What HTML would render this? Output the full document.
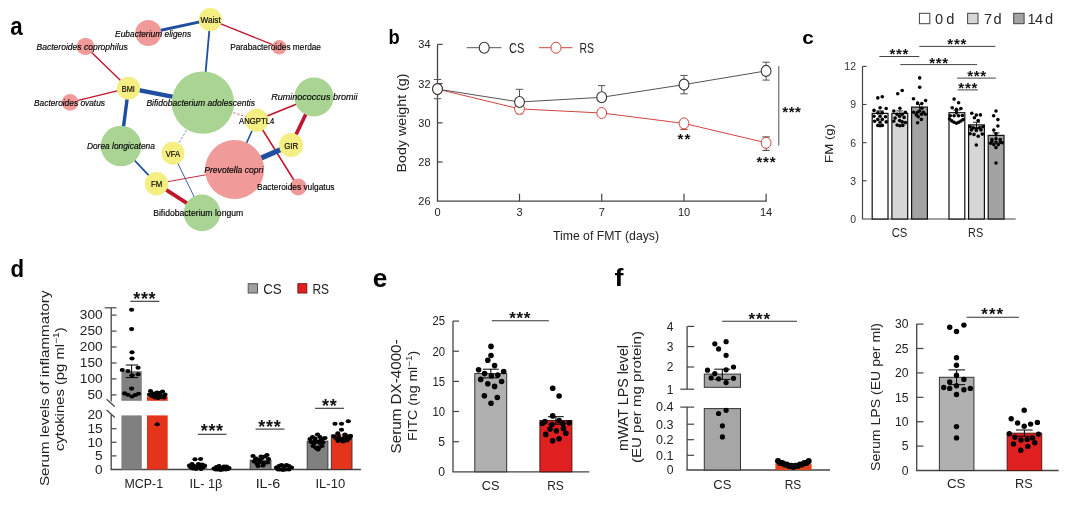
<!DOCTYPE html>
<html lang="en"><head><meta charset="utf-8"><title>Figure</title>
<style>
html,body{margin:0;padding:0;background:#fff;}
body{width:1080px;height:507px;overflow:hidden;}
svg{display:block;font-family:'Liberation Sans', Arial, Helvetica, sans-serif;}
</style></head><body>
<svg width="1080" height="507" viewBox="0 0 1080 507">
<rect width="1080" height="507" fill="#ffffff"/>
<text x="10.3" y="35.1" font-size="25" text-anchor="start" fill="#000" textLength="12.4" lengthAdjust="spacingAndGlyphs" font-weight="bold" >a</text>
<text x="388.6" y="43.7" font-size="19.5" text-anchor="start" fill="#000" textLength="11.2" lengthAdjust="spacingAndGlyphs" font-weight="bold" >b</text>
<text x="802.3" y="43.8" font-size="18.5" text-anchor="start" fill="#000" textLength="11.6" lengthAdjust="spacingAndGlyphs" font-weight="bold" >c</text>
<text x="10.6" y="277.1" font-size="24.5" text-anchor="start" fill="#000" textLength="13.6" lengthAdjust="spacingAndGlyphs" font-weight="bold" >d</text>
<text x="372.8" y="286.6" font-size="25" text-anchor="start" fill="#000" textLength="14.6" lengthAdjust="spacingAndGlyphs" font-weight="bold" >e</text>
<text x="614.4" y="286.0" font-size="24.5" text-anchor="start" fill="#000" textLength="9.0" lengthAdjust="spacingAndGlyphs" font-weight="bold" >f</text>
<g stroke-linecap="butt">
<line x1="210.3" y1="19.6" x2="148.3" y2="33.0" stroke="#1f4f9e" stroke-width="3" />
<line x1="210.3" y1="19.6" x2="279.3" y2="47.3" stroke="#c0152b" stroke-width="1.3" />
<line x1="210.3" y1="19.6" x2="202.9" y2="102.6" stroke="#1f4f9e" stroke-width="1.8" />
<line x1="85.5" y1="46.4" x2="128.5" y2="88.2" stroke="#c0152b" stroke-width="1.4" />
<line x1="70.1" y1="102.4" x2="128.5" y2="88.2" stroke="#c0152b" stroke-width="1.3" />
<line x1="128.5" y1="88.2" x2="202.9" y2="102.6" stroke="#1f4f9e" stroke-width="4.4" />
<line x1="128.5" y1="88.2" x2="121.0" y2="146.0" stroke="#1f4f9e" stroke-width="3.4" />
<line x1="202.9" y1="102.6" x2="256.7" y2="120.3" stroke="#c0152b" stroke-width="0.6"  stroke-dasharray="2.5 1.5"/>
<line x1="202.9" y1="102.6" x2="172.9" y2="153.2" stroke="#1f4f9e" stroke-width="0.6"  stroke-dasharray="2.5 1.5"/>
<line x1="314.0" y1="97.0" x2="256.7" y2="120.3" stroke="#c0152b" stroke-width="1.7" />
<line x1="314.0" y1="97.0" x2="291.0" y2="145.1" stroke="#c0152b" stroke-width="3.6" />
<line x1="256.7" y1="120.3" x2="298.2" y2="187.0" stroke="#c0152b" stroke-width="1.6" />
<line x1="256.7" y1="120.3" x2="234.6" y2="169.6" stroke="#1f4f9e" stroke-width="1.5" />
<line x1="291.0" y1="145.1" x2="234.6" y2="169.6" stroke="#1f4f9e" stroke-width="5.2" />
<line x1="121.0" y1="146.0" x2="156.5" y2="183.7" stroke="#1f4f9e" stroke-width="1.8" />
<line x1="156.5" y1="183.7" x2="234.6" y2="169.6" stroke="#c0152b" stroke-width="0.9" />
<line x1="156.5" y1="183.7" x2="202.0" y2="212.9" stroke="#c0152b" stroke-width="3.8" />
<line x1="172.9" y1="153.2" x2="202.0" y2="212.9" stroke="#1f4f9e" stroke-width="0.9" />
</g>
<circle cx="210.3" cy="19.6" r="11.5" fill="#f5ee82"/>
<circle cx="148.3" cy="33.0" r="13" fill="#f09a9a"/>
<circle cx="85.5" cy="46.4" r="8.7" fill="#f09a9a"/>
<circle cx="279.3" cy="47.3" r="7.3" fill="#f09a9a"/>
<circle cx="128.5" cy="88.2" r="11.5" fill="#f5ee82"/>
<circle cx="70.1" cy="102.4" r="8.3" fill="#f09a9a"/>
<circle cx="202.9" cy="102.6" r="31.2" fill="#a9d494"/>
<circle cx="314.0" cy="97.0" r="19.6" fill="#a9d494"/>
<circle cx="256.7" cy="120.3" r="11.7" fill="#f5ee82"/>
<circle cx="121.0" cy="146.0" r="20.3" fill="#a9d494"/>
<circle cx="172.9" cy="153.2" r="11.5" fill="#f5ee82"/>
<circle cx="291.0" cy="145.1" r="12" fill="#f5ee82"/>
<circle cx="234.6" cy="169.6" r="29.5" fill="#f09a9a"/>
<circle cx="156.5" cy="183.7" r="11.7" fill="#f5ee82"/>
<circle cx="298.2" cy="187.0" r="8.4" fill="#f09a9a"/>
<circle cx="202.0" cy="212.9" r="18.3" fill="#a9d494"/>
<text x="115.1" y="36.5" font-size="8.5" text-anchor="start" fill="#000" textLength="76.0" lengthAdjust="spacingAndGlyphs" font-style="italic" stroke="#000" stroke-width="0.15">Eubacterium eligens</text>
<text x="36.5" y="49.8" font-size="8.5" text-anchor="start" fill="#000" textLength="91.2" lengthAdjust="spacingAndGlyphs" font-style="italic" stroke="#000" stroke-width="0.15">Bacteroides coprophilus</text>
<text x="230.2" y="50.3" font-size="8.5" text-anchor="start" fill="#000" textLength="90.8" lengthAdjust="spacingAndGlyphs" stroke="#000" stroke-width="0.15">Parabacteroides merdae</text>
<text x="34.0" y="105.6" font-size="8.5" text-anchor="start" fill="#000" textLength="71.0" lengthAdjust="spacingAndGlyphs" font-style="italic" stroke="#000" stroke-width="0.15">Bacteroides ovatus</text>
<text x="146.4" y="106.1" font-size="8.5" text-anchor="start" fill="#000" textLength="108.6" lengthAdjust="spacingAndGlyphs" font-style="italic" stroke="#000" stroke-width="0.15">Bifidobacterium adolescentis</text>
<text x="271.2" y="100.2" font-size="8.5" text-anchor="start" fill="#000" textLength="86.3" lengthAdjust="spacingAndGlyphs" font-style="italic" stroke="#000" stroke-width="0.15">Ruminococcus bromii</text>
<text x="86.9" y="149.3" font-size="8.5" text-anchor="start" fill="#000" textLength="68.0" lengthAdjust="spacingAndGlyphs" font-style="italic" stroke="#000" stroke-width="0.15">Dorea longicatena</text>
<text x="204.3" y="172.8" font-size="8.5" text-anchor="start" fill="#000" textLength="59.0" lengthAdjust="spacingAndGlyphs" font-style="italic" stroke="#000" stroke-width="0.15">Prevotella copri</text>
<text x="257.1" y="190.0" font-size="8.5" text-anchor="start" fill="#000" textLength="77.4" lengthAdjust="spacingAndGlyphs" stroke="#000" stroke-width="0.15">Bacteroides vulgatus</text>
<text x="153.2" y="216.1" font-size="8.5" text-anchor="start" fill="#000" textLength="90.0" lengthAdjust="spacingAndGlyphs" stroke="#000" stroke-width="0.15">Bifidobacterium longum</text>
<text x="200.5" y="22.6" font-size="8.2" text-anchor="start" fill="#000" textLength="20.2" lengthAdjust="spacingAndGlyphs" stroke="#000" stroke-width="0.15">Waist</text>
<text x="121.8" y="91.5" font-size="8.2" text-anchor="start" fill="#000" textLength="13.1" lengthAdjust="spacingAndGlyphs" stroke="#000" stroke-width="0.15">BMI</text>
<text x="239.1" y="123.7" font-size="8.2" text-anchor="start" fill="#000" textLength="35.2" lengthAdjust="spacingAndGlyphs" stroke="#000" stroke-width="0.15">ANGPTL4</text>
<text x="165.7" y="156.9" font-size="8.2" text-anchor="start" fill="#000" textLength="14.3" lengthAdjust="spacingAndGlyphs" stroke="#000" stroke-width="0.15">VFA</text>
<text x="284.2" y="148.5" font-size="8.2" text-anchor="start" fill="#000" textLength="14.0" lengthAdjust="spacingAndGlyphs" stroke="#000" stroke-width="0.15">GIR</text>
<text x="151.0" y="187.0" font-size="8.2" text-anchor="start" fill="#000" textLength="11.3" lengthAdjust="spacingAndGlyphs" stroke="#000" stroke-width="0.15">FM</text>
<line x1="437.5" y1="44.4" x2="437.5" y2="201.2" stroke="#444" stroke-width="1.3" />
<line x1="436.9" y1="201.2" x2="766.7" y2="201.2" stroke="#444" stroke-width="1.3" />
<text x="430.5" y="205.2" font-size="11" text-anchor="end" fill="#222" textLength="12.2" lengthAdjust="spacingAndGlyphs" >26</text>
<line x1="437.5" y1="162.0" x2="442.5" y2="162.0" stroke="#444" stroke-width="1.2" />
<text x="430.5" y="166.0" font-size="11" text-anchor="end" fill="#222" textLength="12.2" lengthAdjust="spacingAndGlyphs" >28</text>
<line x1="437.5" y1="122.8" x2="442.5" y2="122.8" stroke="#444" stroke-width="1.2" />
<text x="430.5" y="126.8" font-size="11" text-anchor="end" fill="#222" textLength="12.2" lengthAdjust="spacingAndGlyphs" >30</text>
<line x1="437.5" y1="83.6" x2="442.5" y2="83.6" stroke="#444" stroke-width="1.2" />
<text x="430.5" y="87.6" font-size="11" text-anchor="end" fill="#222" textLength="12.2" lengthAdjust="spacingAndGlyphs" >32</text>
<line x1="437.5" y1="44.4" x2="442.5" y2="44.4" stroke="#444" stroke-width="1.2" />
<text x="430.5" y="48.4" font-size="11" text-anchor="end" fill="#222" textLength="12.2" lengthAdjust="spacingAndGlyphs" >34</text>
<text x="437.5" y="216.0" font-size="11" text-anchor="middle" fill="#222" >0</text>
<line x1="519.5" y1="201.2" x2="519.5" y2="193.7" stroke="#444" stroke-width="1.2" />
<text x="519.5" y="216.0" font-size="11" text-anchor="middle" fill="#222" >3</text>
<line x1="601.7" y1="201.2" x2="601.7" y2="193.7" stroke="#444" stroke-width="1.2" />
<text x="601.7" y="216.0" font-size="11" text-anchor="middle" fill="#222" >7</text>
<line x1="684.0" y1="201.2" x2="684.0" y2="193.7" stroke="#444" stroke-width="1.2" />
<text x="684.0" y="216.0" font-size="11" text-anchor="middle" fill="#222" >10</text>
<line x1="766.1" y1="201.2" x2="766.1" y2="193.7" stroke="#444" stroke-width="1.2" />
<text x="766.1" y="216.0" font-size="11" text-anchor="middle" fill="#222" >14</text>
<text x="606.0" y="239.6" font-size="12.5" text-anchor="middle" fill="#222" textLength="106.0" lengthAdjust="spacingAndGlyphs" >Time of FMT (days)</text>
<text x="406.2" y="123.0" font-size="13" text-anchor="middle" fill="#222" textLength="99.0" lengthAdjust="spacingAndGlyphs" transform="rotate(-90 406.2 123.0)" >Body weight (g)</text>
<polyline fill="none" stroke="#d0453f" stroke-width="1" points="437.5,89.1 519.5,108.9 601.7,113.0 684.0,123.4 766.1,142.8"/>
<polyline fill="none" stroke="#555" stroke-width="1" points="437.5,89.1 519.5,102.0 601.7,97.3 684.0,84.6 766.1,70.9"/>
<line x1="519.5" y1="108.9" x2="519.5" y2="113.8" stroke="#d0453f" stroke-width="1" />
<line x1="515.8" y1="113.8" x2="523.2" y2="113.8" stroke="#d0453f" stroke-width="1" />
<line x1="684.0" y1="123.4" x2="684.0" y2="129.5" stroke="#d0453f" stroke-width="1" />
<line x1="680.3" y1="129.5" x2="687.7" y2="129.5" stroke="#d0453f" stroke-width="1" />
<line x1="766.1" y1="142.8" x2="766.1" y2="136.9" stroke="#444" stroke-width="1" />
<line x1="762.4" y1="136.9" x2="769.8" y2="136.9" stroke="#444" stroke-width="1" />
<line x1="766.1" y1="142.8" x2="766.1" y2="150.4" stroke="#444" stroke-width="1" />
<line x1="762.4" y1="150.4" x2="769.8" y2="150.4" stroke="#444" stroke-width="1" />
<line x1="437.5" y1="89.1" x2="437.5" y2="79.5" stroke="#555" stroke-width="1" />
<line x1="433.8" y1="79.5" x2="441.2" y2="79.5" stroke="#555" stroke-width="1" />
<line x1="437.5" y1="89.1" x2="437.5" y2="98.7" stroke="#555" stroke-width="1" />
<line x1="433.8" y1="98.7" x2="441.2" y2="98.7" stroke="#555" stroke-width="1" />
<line x1="519.5" y1="102.0" x2="519.5" y2="89.3" stroke="#555" stroke-width="1" />
<line x1="515.8" y1="89.3" x2="523.2" y2="89.3" stroke="#555" stroke-width="1" />
<line x1="601.7" y1="97.3" x2="601.7" y2="85.6" stroke="#555" stroke-width="1" />
<line x1="598.0" y1="85.6" x2="605.4" y2="85.6" stroke="#555" stroke-width="1" />
<line x1="684.0" y1="84.6" x2="684.0" y2="75.4" stroke="#555" stroke-width="1" />
<line x1="680.3" y1="75.4" x2="687.7" y2="75.4" stroke="#555" stroke-width="1" />
<line x1="684.0" y1="84.6" x2="684.0" y2="93.8" stroke="#555" stroke-width="1" />
<line x1="680.3" y1="93.8" x2="687.7" y2="93.8" stroke="#555" stroke-width="1" />
<line x1="766.1" y1="70.9" x2="766.1" y2="62.2" stroke="#555" stroke-width="1" />
<line x1="762.4" y1="62.2" x2="769.8" y2="62.2" stroke="#555" stroke-width="1" />
<line x1="766.1" y1="70.9" x2="766.1" y2="80.1" stroke="#555" stroke-width="1" />
<line x1="762.4" y1="80.1" x2="769.8" y2="80.1" stroke="#555" stroke-width="1" />
<ellipse cx="437.5" cy="89.1" rx="4.9" ry="5.5" fill="#fff" stroke="#d0453f" stroke-width="1"/>
<ellipse cx="519.5" cy="108.9" rx="4.9" ry="5.5" fill="#fff" stroke="#d0453f" stroke-width="1"/>
<ellipse cx="601.7" cy="113.0" rx="4.9" ry="5.5" fill="#fff" stroke="#d0453f" stroke-width="1"/>
<ellipse cx="684.0" cy="123.4" rx="4.9" ry="5.5" fill="#fff" stroke="#d0453f" stroke-width="1"/>
<ellipse cx="766.1" cy="142.8" rx="4.9" ry="5.5" fill="#fff" stroke="#d0453f" stroke-width="1"/>
<ellipse cx="437.5" cy="89.1" rx="4.9" ry="5.5" fill="#fff" stroke="#333" stroke-width="1.1"/>
<ellipse cx="519.5" cy="102.0" rx="4.9" ry="5.5" fill="#fff" stroke="#333" stroke-width="1.1"/>
<ellipse cx="601.7" cy="97.3" rx="4.9" ry="5.5" fill="#fff" stroke="#333" stroke-width="1.1"/>
<ellipse cx="684.0" cy="84.6" rx="4.9" ry="5.5" fill="#fff" stroke="#333" stroke-width="1.1"/>
<ellipse cx="766.1" cy="70.9" rx="4.9" ry="5.5" fill="#fff" stroke="#333" stroke-width="1.1"/>
<line x1="466.6" y1="47.7" x2="501.5" y2="47.7" stroke="#555" stroke-width="1" />
<ellipse cx="484.2" cy="47.7" rx="5" ry="5.5" fill="#fff" stroke="#333" stroke-width="1.1"/>
<text x="508.9" y="52.8" font-size="14.5" text-anchor="start" fill="#222" textLength="15.4" lengthAdjust="spacingAndGlyphs" >CS</text>
<line x1="539.0" y1="47.7" x2="572.5" y2="47.7" stroke="#d0453f" stroke-width="1" />
<ellipse cx="556" cy="47.7" rx="5" ry="5.5" fill="#fff" stroke="#d0453f" stroke-width="1"/>
<text x="579.5" y="52.8" font-size="14.5" text-anchor="start" fill="#222" textLength="14.5" lengthAdjust="spacingAndGlyphs" >RS</text>
<text x="680.5 687.3" y="144.4" font-size="15" text-anchor="middle" font-weight="bold" fill="#111">**</text>
<text x="759.4 766.0 772.6" y="167.0" font-size="15" text-anchor="middle" font-weight="bold" fill="#111">***</text>
<line x1="778.8" y1="66.2" x2="778.8" y2="145.6" stroke="#555" stroke-width="1" />
<text x="785.2 791.6 798.0" y="117.4" font-size="15" text-anchor="middle" font-weight="bold" fill="#111">***</text>
<line x1="862.5" y1="66.4" x2="862.5" y2="219.0" stroke="#444" stroke-width="1.2" />
<line x1="861.9" y1="219.0" x2="1015.7" y2="219.0" stroke="#444" stroke-width="1.2" />
<text x="856.0" y="222.8" font-size="10.5" text-anchor="end" fill="#333" >0</text>
<line x1="862.5" y1="180.8" x2="866.5" y2="180.8" stroke="#444" stroke-width="1.1" />
<text x="856.0" y="184.6" font-size="10.5" text-anchor="end" fill="#333" >3</text>
<line x1="862.5" y1="142.7" x2="866.5" y2="142.7" stroke="#444" stroke-width="1.1" />
<text x="856.0" y="146.5" font-size="10.5" text-anchor="end" fill="#333" >6</text>
<line x1="862.5" y1="104.5" x2="866.5" y2="104.5" stroke="#444" stroke-width="1.1" />
<text x="856.0" y="108.3" font-size="10.5" text-anchor="end" fill="#333" >9</text>
<line x1="862.5" y1="66.4" x2="866.5" y2="66.4" stroke="#444" stroke-width="1.1" />
<text x="856.0" y="70.2" font-size="10.5" text-anchor="end" fill="#333" >12</text>
<rect x="872.2" y="113.4" width="15.8" height="105.6" fill="#fff" stroke="#111" stroke-width="1.2"/>
<rect x="891.9" y="113.4" width="15.8" height="105.6" fill="#d6d6d6" stroke="#111" stroke-width="1.2"/>
<rect x="911.6" y="107.1" width="15.8" height="111.9" fill="#a3a3a3" stroke="#111" stroke-width="1.2"/>
<rect x="949.0" y="112.7" width="15.8" height="106.3" fill="#fff" stroke="#111" stroke-width="1.2"/>
<rect x="968.6" y="124.9" width="15.8" height="94.1" fill="#d6d6d6" stroke="#111" stroke-width="1.2"/>
<rect x="988.2" y="135.4" width="15.8" height="83.6" fill="#a3a3a3" stroke="#111" stroke-width="1.2"/>
<line x1="880.1" y1="110.9" x2="880.1" y2="116.0" stroke="#000" stroke-width="0.8" />
<line x1="876.6" y1="110.9" x2="883.6" y2="110.9" stroke="#000" stroke-width="0.8" />
<line x1="899.8" y1="110.9" x2="899.8" y2="116.0" stroke="#000" stroke-width="0.8" />
<line x1="896.3" y1="110.9" x2="903.3" y2="110.9" stroke="#000" stroke-width="0.8" />
<line x1="919.5" y1="104.5" x2="919.5" y2="109.6" stroke="#000" stroke-width="0.8" />
<line x1="916.0" y1="104.5" x2="923.0" y2="104.5" stroke="#000" stroke-width="0.8" />
<line x1="956.9" y1="110.1" x2="956.9" y2="115.2" stroke="#000" stroke-width="0.8" />
<line x1="953.4" y1="110.1" x2="960.4" y2="110.1" stroke="#000" stroke-width="0.8" />
<line x1="976.5" y1="122.3" x2="976.5" y2="127.4" stroke="#000" stroke-width="0.8" />
<line x1="973.0" y1="122.3" x2="980.0" y2="122.3" stroke="#000" stroke-width="0.8" />
<line x1="996.1" y1="132.9" x2="996.1" y2="138.0" stroke="#000" stroke-width="0.8" />
<line x1="992.6" y1="132.9" x2="999.6" y2="132.9" stroke="#000" stroke-width="0.8" />
<g fill="#000"><circle cx="877.8" cy="97.9" r="1.8"/><circle cx="882.3" cy="96.7" r="1.8"/><circle cx="880.1" cy="107.8" r="1.8"/><circle cx="874.0" cy="110.4" r="1.8"/><circle cx="886.2" cy="108.5" r="1.8"/><circle cx="877.8" cy="112.9" r="1.8"/><circle cx="882.3" cy="112.9" r="1.8"/><circle cx="874.0" cy="116.2" r="1.8"/><circle cx="885.5" cy="116.8" r="1.8"/><circle cx="880.1" cy="116.2" r="1.8"/><circle cx="877.8" cy="119.4" r="1.8"/><circle cx="882.3" cy="119.4" r="1.8"/><circle cx="874.6" cy="121.3" r="1.8"/><circle cx="886.2" cy="121.9" r="1.8"/><circle cx="880.1" cy="122.3" r="1.8"/><circle cx="877.8" cy="125.4" r="1.8"/><circle cx="880.1" cy="125.8" r="1.8"/><circle cx="882.3" cy="125.4" r="1.8"/><circle cx="897.7" cy="93.7" r="1.8"/><circle cx="902.2" cy="90.5" r="1.8"/><circle cx="899.9" cy="108.2" r="1.8"/><circle cx="893.8" cy="111.0" r="1.8"/><circle cx="905.4" cy="112.3" r="1.8"/><circle cx="897.1" cy="114.2" r="1.8"/><circle cx="902.2" cy="114.2" r="1.8"/><circle cx="899.6" cy="116.2" r="1.8"/><circle cx="895.1" cy="118.1" r="1.8"/><circle cx="904.1" cy="117.4" r="1.8"/><circle cx="893.8" cy="121.3" r="1.8"/><circle cx="899.6" cy="120.6" r="1.8"/><circle cx="905.4" cy="122.6" r="1.8"/><circle cx="897.1" cy="125.1" r="1.8"/><circle cx="899.9" cy="125.8" r="1.8"/><circle cx="902.8" cy="125.4" r="1.8"/><circle cx="902.2" cy="121.9" r="1.8"/><circle cx="919.7" cy="77.9" r="1.8"/><circle cx="919.7" cy="87.3" r="1.8"/><circle cx="913.5" cy="98.8" r="1.8"/><circle cx="925.6" cy="100.5" r="1.8"/><circle cx="917.6" cy="103.1" r="1.8"/><circle cx="921.8" cy="103.6" r="1.8"/><circle cx="921.8" cy="108.2" r="1.8"/><circle cx="913.7" cy="112.3" r="1.8"/><circle cx="917.6" cy="112.3" r="1.8"/><circle cx="925.3" cy="114.2" r="1.8"/><circle cx="916.3" cy="114.9" r="1.8"/><circle cx="921.4" cy="114.2" r="1.8"/><circle cx="919.5" cy="111.0" r="1.8"/><circle cx="921.4" cy="119.4" r="1.8"/><circle cx="917.6" cy="122.8" r="1.8"/><circle cx="923.3" cy="112.3" r="1.8"/><circle cx="918.2" cy="116.8" r="1.8"/><circle cx="954.1" cy="99.1" r="1.8"/><circle cx="958.6" cy="102.7" r="1.8"/><circle cx="952.2" cy="107.8" r="1.8"/><circle cx="956.4" cy="109.4" r="1.8"/><circle cx="960.9" cy="108.5" r="1.8"/><circle cx="956.4" cy="112.6" r="1.8"/><circle cx="950.3" cy="115.8" r="1.8"/><circle cx="954.1" cy="115.8" r="1.8"/><circle cx="958.6" cy="115.8" r="1.8"/><circle cx="962.4" cy="115.5" r="1.8"/><circle cx="949.6" cy="119.0" r="1.8"/><circle cx="951.8" cy="120.9" r="1.8"/><circle cx="954.1" cy="122.2" r="1.8"/><circle cx="956.4" cy="123.2" r="1.8"/><circle cx="958.7" cy="122.2" r="1.8"/><circle cx="960.9" cy="121.0" r="1.8"/><circle cx="963.1" cy="119.6" r="1.8"/><circle cx="971.8" cy="113.2" r="1.8"/><circle cx="976.3" cy="115.1" r="1.8"/><circle cx="980.4" cy="114.9" r="1.8"/><circle cx="974.4" cy="117.7" r="1.8"/><circle cx="978.2" cy="120.6" r="1.8"/><circle cx="970.1" cy="126.7" r="1.8"/><circle cx="973.3" cy="127.9" r="1.8"/><circle cx="976.5" cy="128.6" r="1.8"/><circle cx="979.7" cy="127.9" r="1.8"/><circle cx="982.9" cy="126.7" r="1.8"/><circle cx="971.4" cy="129.9" r="1.8"/><circle cx="981.0" cy="129.9" r="1.8"/><circle cx="976.3" cy="130.5" r="1.8"/><circle cx="970.1" cy="133.7" r="1.8"/><circle cx="974.0" cy="134.4" r="1.8"/><circle cx="982.3" cy="134.1" r="1.8"/><circle cx="978.2" cy="136.3" r="1.8"/><circle cx="976.3" cy="145.0" r="1.8"/><circle cx="996.0" cy="111.0" r="1.8"/><circle cx="993.6" cy="115.8" r="1.8"/><circle cx="997.9" cy="119.6" r="1.8"/><circle cx="997.9" cy="126.0" r="1.8"/><circle cx="993.8" cy="130.1" r="1.8"/><circle cx="996.0" cy="133.7" r="1.8"/><circle cx="991.9" cy="139.5" r="1.8"/><circle cx="996.0" cy="138.8" r="1.8"/><circle cx="1000.3" cy="139.5" r="1.8"/><circle cx="990.6" cy="143.3" r="1.8"/><circle cx="993.8" cy="144.6" r="1.8"/><circle cx="998.3" cy="144.6" r="1.8"/><circle cx="1002.2" cy="142.7" r="1.8"/><circle cx="996.0" cy="147.6" r="1.8"/><circle cx="996.0" cy="142.1" r="1.8"/><circle cx="991.9" cy="141.4" r="1.8"/><circle cx="1000.3" cy="142.1" r="1.8"/><circle cx="996.0" cy="163.0" r="1.8"/></g>
<line x1="879.4" y1="56.5" x2="919.3" y2="56.5" stroke="#444" stroke-width="1" />
<text x="892.5 899.0 905.5" y="59.1" font-size="15" text-anchor="middle" font-weight="bold" fill="#111">***</text>
<line x1="919.3" y1="46.4" x2="995.4" y2="46.4" stroke="#444" stroke-width="1" />
<text x="950.2 956.8 963.3" y="48.7" font-size="15" text-anchor="middle" font-weight="bold" fill="#111">***</text>
<line x1="900.3" y1="64.6" x2="977.1" y2="64.6" stroke="#444" stroke-width="1" />
<text x="932.1 938.6 945.1" y="67.9" font-size="15" text-anchor="middle" font-weight="bold" fill="#111">***</text>
<line x1="957.1" y1="78.1" x2="995.9" y2="78.1" stroke="#444" stroke-width="1" />
<text x="970.1 976.6 983.1" y="81.0" font-size="15" text-anchor="middle" font-weight="bold" fill="#111">***</text>
<line x1="957.6" y1="89.9" x2="977.9" y2="89.9" stroke="#444" stroke-width="1" />
<text x="961.2 967.8 974.3" y="92.7" font-size="15" text-anchor="middle" font-weight="bold" fill="#111">***</text>
<text x="899.5" y="237.2" font-size="12.8" text-anchor="middle" fill="#222" textLength="15.6" lengthAdjust="spacingAndGlyphs" >CS</text>
<text x="975.6" y="237.2" font-size="12.8" text-anchor="middle" fill="#222" textLength="15.1" lengthAdjust="spacingAndGlyphs" >RS</text>
<text x="832.9" y="143.4" font-size="11.5" text-anchor="middle" fill="#222" textLength="39.0" lengthAdjust="spacingAndGlyphs" transform="rotate(-90 832.9 143.4)" >FM (g)</text>
<rect x="919.4" y="13.3" width="10.4" height="10.4" fill="#fff" stroke="#444" stroke-width="1"/>
<rect x="967.6" y="13.3" width="10.4" height="10.4" fill="#d6d6d6" stroke="#444" stroke-width="1"/>
<rect x="1013.7" y="13.3" width="10.4" height="10.4" fill="#a3a3a3" stroke="#444" stroke-width="1"/>
<text font-size="14.6" fill="#2a2a2a" y="23.9" x="935.1 943 946.3">0 d</text>
<text font-size="14.6" fill="#2a2a2a" y="23.9" x="983.9 990.5 993.5">7 d</text>
<text font-size="14.6" fill="#2a2a2a" y="23.9" x="1027.4 1035 1042 1045.1">14 d</text>
<line x1="111.2" y1="307.8" x2="111.2" y2="401.5" stroke="#444" stroke-width="1.3" />
<line x1="104.7" y1="307.8" x2="116.4" y2="307.8" stroke="#444" stroke-width="1.2" />
<line x1="111.2" y1="394.9" x2="116.5" y2="394.9" stroke="#444" stroke-width="1.2" />
<text x="102.6" y="399.2" font-size="12" text-anchor="end" fill="#222" textLength="15.2" lengthAdjust="spacingAndGlyphs" >50</text>
<line x1="111.2" y1="378.9" x2="116.5" y2="378.9" stroke="#444" stroke-width="1.2" />
<text x="102.6" y="383.2" font-size="12" text-anchor="end" fill="#222" textLength="22.8" lengthAdjust="spacingAndGlyphs" >100</text>
<line x1="111.2" y1="363.0" x2="116.5" y2="363.0" stroke="#444" stroke-width="1.2" />
<text x="102.6" y="367.3" font-size="12" text-anchor="end" fill="#222" textLength="22.8" lengthAdjust="spacingAndGlyphs" >150</text>
<line x1="111.2" y1="347.0" x2="116.5" y2="347.0" stroke="#444" stroke-width="1.2" />
<text x="102.6" y="351.3" font-size="12" text-anchor="end" fill="#222" textLength="22.8" lengthAdjust="spacingAndGlyphs" >200</text>
<line x1="111.2" y1="331.1" x2="116.5" y2="331.1" stroke="#444" stroke-width="1.2" />
<text x="102.6" y="335.4" font-size="12" text-anchor="end" fill="#222" textLength="22.8" lengthAdjust="spacingAndGlyphs" >250</text>
<line x1="111.2" y1="315.1" x2="116.5" y2="315.1" stroke="#444" stroke-width="1.2" />
<text x="102.6" y="319.4" font-size="12" text-anchor="end" fill="#222" textLength="22.8" lengthAdjust="spacingAndGlyphs" >300</text>
<line x1="106.6" y1="399.3" x2="114.9" y2="406.7" stroke="#444" stroke-width="1.2" />
<line x1="106.6" y1="410.0" x2="114.9" y2="417.5" stroke="#444" stroke-width="1.2" />
<line x1="111.2" y1="414.5" x2="111.2" y2="469.5" stroke="#444" stroke-width="1.3" />
<line x1="110.6" y1="469.5" x2="360.9" y2="469.5" stroke="#444" stroke-width="1.3" />
<text x="102.6" y="473.8" font-size="12" text-anchor="end" fill="#222" textLength="7.6" lengthAdjust="spacingAndGlyphs" >0</text>
<line x1="111.2" y1="455.9" x2="116.5" y2="455.9" stroke="#444" stroke-width="1.2" />
<text x="102.6" y="460.2" font-size="12" text-anchor="end" fill="#222" textLength="7.6" lengthAdjust="spacingAndGlyphs" >5</text>
<line x1="111.2" y1="442.3" x2="116.5" y2="442.3" stroke="#444" stroke-width="1.2" />
<text x="102.6" y="446.6" font-size="12" text-anchor="end" fill="#222" textLength="15.2" lengthAdjust="spacingAndGlyphs" >10</text>
<line x1="111.2" y1="428.7" x2="116.5" y2="428.7" stroke="#444" stroke-width="1.2" />
<text x="102.6" y="433.0" font-size="12" text-anchor="end" fill="#222" textLength="15.2" lengthAdjust="spacingAndGlyphs" >15</text>
<text x="102.6" y="419.4" font-size="12" text-anchor="end" fill="#222" textLength="15.2" lengthAdjust="spacingAndGlyphs" >20</text>
<rect x="121.4" y="371.1" width="20.4" height="29.7" fill="#808080"/>
<rect x="121.4" y="415.4" width="20.4" height="54.1" fill="#808080"/>
<rect x="147.0" y="396.2" width="20.7" height="4.6" fill="#e5341c"/>
<rect x="147.0" y="415.4" width="20.7" height="54.1" fill="#e5341c"/>
<line x1="131.6" y1="365.0" x2="131.6" y2="377.6" stroke="#000" stroke-width="1" />
<line x1="125.8" y1="365.0" x2="138.1" y2="365.0" stroke="#000" stroke-width="1" />
<line x1="125.8" y1="377.6" x2="138.1" y2="377.6" stroke="#000" stroke-width="1" />
<g fill="#000"><ellipse cx="131.6" cy="309.7" rx="2.6" ry="2.05"/><ellipse cx="131.6" cy="329.1" rx="2.6" ry="2.05"/><ellipse cx="132.0" cy="352.2" rx="2.6" ry="2.05"/><ellipse cx="132.0" cy="358.5" rx="2.6" ry="2.05"/><ellipse cx="122.3" cy="370.0" rx="2.6" ry="2.05"/><ellipse cx="127.9" cy="371.1" rx="2.6" ry="2.05"/><ellipse cx="138.1" cy="367.8" rx="2.6" ry="2.05"/><ellipse cx="132.0" cy="375.2" rx="2.6" ry="2.05"/><ellipse cx="138.1" cy="374.3" rx="2.6" ry="2.05"/><ellipse cx="131.6" cy="388.6" rx="2.6" ry="2.05"/><ellipse cx="124.6" cy="393.4" rx="2.6" ry="2.05"/><ellipse cx="127.9" cy="394.7" rx="2.6" ry="2.05"/><ellipse cx="132.0" cy="396.5" rx="2.6" ry="2.05"/><ellipse cx="135.3" cy="395.0" rx="2.6" ry="2.05"/><ellipse cx="138.6" cy="393.8" rx="2.6" ry="2.05"/></g>
<g fill="#000"><ellipse cx="150.5" cy="391.0" rx="2.6" ry="2.05"/><ellipse cx="153.5" cy="393.5" rx="2.6" ry="2.05"/><ellipse cx="156.5" cy="395.5" rx="2.6" ry="2.05"/><ellipse cx="159.5" cy="393.0" rx="2.6" ry="2.05"/><ellipse cx="162.5" cy="391.5" rx="2.6" ry="2.05"/><ellipse cx="165.0" cy="394.5" rx="2.6" ry="2.05"/><ellipse cx="152.0" cy="396.0" rx="2.6" ry="2.05"/><ellipse cx="155.0" cy="397.5" rx="2.6" ry="2.05"/><ellipse cx="158.0" cy="398.0" rx="2.6" ry="2.05"/><ellipse cx="161.0" cy="397.0" rx="2.6" ry="2.05"/><ellipse cx="164.0" cy="397.5" rx="2.6" ry="2.05"/><ellipse cx="157.0" cy="392.5" rx="2.6" ry="2.05"/><ellipse cx="160.5" cy="395.5" rx="2.6" ry="2.05"/><ellipse cx="149.5" cy="394.5" rx="2.6" ry="2.05"/><ellipse cx="157.2" cy="424.3" rx="2.6" ry="2.05"/></g>
<rect x="187.6" y="465.2" width="19.5" height="4.3" fill="#808080"/>
<rect x="212.3" y="468.2" width="18.5" height="1.3" fill="#e5341c"/>
<g fill="#000"><ellipse cx="195.0" cy="459.3" rx="2.6" ry="2.05"/><ellipse cx="200.6" cy="459.0" rx="2.6" ry="2.05"/><ellipse cx="189.5" cy="465.5" rx="2.6" ry="2.05"/><ellipse cx="192.0" cy="464.0" rx="2.6" ry="2.05"/><ellipse cx="194.5" cy="466.0" rx="2.6" ry="2.05"/><ellipse cx="197.0" cy="467.5" rx="2.6" ry="2.05"/><ellipse cx="199.5" cy="466.0" rx="2.6" ry="2.05"/><ellipse cx="202.0" cy="464.5" rx="2.6" ry="2.05"/><ellipse cx="204.5" cy="465.5" rx="2.6" ry="2.05"/><ellipse cx="191.0" cy="467.5" rx="2.6" ry="2.05"/><ellipse cx="203.0" cy="467.5" rx="2.6" ry="2.05"/><ellipse cx="196.0" cy="469.0" rx="2.6" ry="2.05"/><ellipse cx="198.5" cy="464.0" rx="2.6" ry="2.05"/><ellipse cx="193.0" cy="468.5" rx="2.6" ry="2.05"/><ellipse cx="201.0" cy="469.0" rx="2.6" ry="2.05"/></g>
<g fill="#000"><ellipse cx="214.0" cy="468.5" rx="2.6" ry="2.05"/><ellipse cx="216.5" cy="467.0" rx="2.6" ry="2.05"/><ellipse cx="219.0" cy="466.0" rx="2.6" ry="2.05"/><ellipse cx="221.5" cy="468.0" rx="2.6" ry="2.05"/><ellipse cx="224.0" cy="466.5" rx="2.6" ry="2.05"/><ellipse cx="226.5" cy="466.5" rx="2.6" ry="2.05"/><ellipse cx="229.0" cy="468.0" rx="2.6" ry="2.05"/><ellipse cx="217.5" cy="469.5" rx="2.6" ry="2.05"/><ellipse cx="220.5" cy="470.0" rx="2.6" ry="2.05"/><ellipse cx="223.0" cy="469.5" rx="2.6" ry="2.05"/><ellipse cx="226.0" cy="469.5" rx="2.6" ry="2.05"/><ellipse cx="215.5" cy="469.5" rx="2.6" ry="2.05"/><ellipse cx="228.0" cy="469.0" rx="2.6" ry="2.05"/></g>
<rect x="250.1" y="460.2" width="20.9" height="9.3" fill="#808080" stroke="#333" stroke-width="0.8"/>
<rect x="274.7" y="467.6" width="18.6" height="1.9" fill="#e5341c"/>
<g fill="#000"><ellipse cx="253.0" cy="456.0" rx="2.6" ry="2.05"/><ellipse cx="256.0" cy="458.5" rx="2.6" ry="2.05"/><ellipse cx="259.0" cy="460.0" rx="2.6" ry="2.05"/><ellipse cx="262.0" cy="458.0" rx="2.6" ry="2.05"/><ellipse cx="265.0" cy="456.5" rx="2.6" ry="2.05"/><ellipse cx="267.0" cy="455.0" rx="2.6" ry="2.05"/><ellipse cx="268.5" cy="459.0" rx="2.6" ry="2.05"/><ellipse cx="254.0" cy="461.5" rx="2.6" ry="2.05"/><ellipse cx="257.0" cy="463.5" rx="2.6" ry="2.05"/><ellipse cx="260.5" cy="462.0" rx="2.6" ry="2.05"/><ellipse cx="264.0" cy="463.0" rx="2.6" ry="2.05"/><ellipse cx="267.5" cy="462.5" rx="2.6" ry="2.05"/><ellipse cx="258.0" cy="466.0" rx="2.6" ry="2.05"/><ellipse cx="263.0" cy="465.5" rx="2.6" ry="2.05"/><ellipse cx="255.5" cy="459.5" rx="2.6" ry="2.05"/><ellipse cx="261.0" cy="456.5" rx="2.6" ry="2.05"/></g>
<g fill="#000"><ellipse cx="276.5" cy="467.5" rx="2.6" ry="2.05"/><ellipse cx="279.0" cy="466.0" rx="2.6" ry="2.05"/><ellipse cx="281.5" cy="465.0" rx="2.6" ry="2.05"/><ellipse cx="284.0" cy="467.0" rx="2.6" ry="2.05"/><ellipse cx="286.5" cy="465.0" rx="2.6" ry="2.05"/><ellipse cx="289.0" cy="466.0" rx="2.6" ry="2.05"/><ellipse cx="291.5" cy="467.5" rx="2.6" ry="2.05"/><ellipse cx="280.0" cy="469.5" rx="2.6" ry="2.05"/><ellipse cx="283.0" cy="470.0" rx="2.6" ry="2.05"/><ellipse cx="286.0" cy="469.5" rx="2.6" ry="2.05"/><ellipse cx="289.0" cy="469.5" rx="2.6" ry="2.05"/><ellipse cx="278.0" cy="469.5" rx="2.6" ry="2.05"/></g>
<rect x="307.2" y="441.1" width="20.7" height="28.4" fill="#808080" stroke="#333" stroke-width="0.9"/>
<rect x="331.3" y="434.8" width="20.7" height="34.7" fill="#e5341c" stroke="#333" stroke-width="0.9"/>
<g fill="#000"><ellipse cx="310.0" cy="439.0" rx="2.6" ry="2.05"/><ellipse cx="312.5" cy="437.0" rx="2.6" ry="2.05"/><ellipse cx="315.0" cy="438.5" rx="2.6" ry="2.05"/><ellipse cx="317.5" cy="434.5" rx="2.6" ry="2.05"/><ellipse cx="320.0" cy="437.0" rx="2.6" ry="2.05"/><ellipse cx="322.5" cy="439.0" rx="2.6" ry="2.05"/><ellipse cx="325.0" cy="438.0" rx="2.6" ry="2.05"/><ellipse cx="311.0" cy="442.0" rx="2.6" ry="2.05"/><ellipse cx="314.0" cy="443.5" rx="2.6" ry="2.05"/><ellipse cx="317.0" cy="441.5" rx="2.6" ry="2.05"/><ellipse cx="320.0" cy="443.0" rx="2.6" ry="2.05"/><ellipse cx="323.0" cy="442.5" rx="2.6" ry="2.05"/><ellipse cx="313.0" cy="446.0" rx="2.6" ry="2.05"/><ellipse cx="316.0" cy="448.0" rx="2.6" ry="2.05"/><ellipse cx="319.0" cy="447.5" rx="2.6" ry="2.05"/><ellipse cx="322.0" cy="446.0" rx="2.6" ry="2.05"/><ellipse cx="318.0" cy="449.5" rx="2.6" ry="2.05"/><ellipse cx="315.0" cy="440.5" rx="2.6" ry="2.05"/><ellipse cx="321.0" cy="440.0" rx="2.6" ry="2.05"/></g>
<g fill="#000"><ellipse cx="335.0" cy="423.7" rx="2.6" ry="2.05"/><ellipse cx="341.5" cy="423.7" rx="2.6" ry="2.05"/><ellipse cx="348.3" cy="421.3" rx="2.6" ry="2.05"/><ellipse cx="341.5" cy="429.7" rx="2.6" ry="2.05"/><ellipse cx="337.8" cy="433.4" rx="2.6" ry="2.05"/><ellipse cx="334.0" cy="436.5" rx="2.6" ry="2.05"/><ellipse cx="336.5" cy="438.5" rx="2.6" ry="2.05"/><ellipse cx="339.0" cy="437.0" rx="2.6" ry="2.05"/><ellipse cx="341.5" cy="439.5" rx="2.6" ry="2.05"/><ellipse cx="344.0" cy="438.0" rx="2.6" ry="2.05"/><ellipse cx="346.5" cy="437.0" rx="2.6" ry="2.05"/><ellipse cx="349.0" cy="438.5" rx="2.6" ry="2.05"/><ellipse cx="350.5" cy="436.0" rx="2.6" ry="2.05"/><ellipse cx="338.0" cy="441.0" rx="2.6" ry="2.05"/><ellipse cx="343.0" cy="441.5" rx="2.6" ry="2.05"/><ellipse cx="347.0" cy="440.5" rx="2.6" ry="2.05"/><ellipse cx="345.0" cy="434.5" rx="2.6" ry="2.05"/></g>
<line x1="341.6" y1="432.6" x2="341.6" y2="437.0" stroke="#fff" stroke-width="0.8" />
<line x1="130.3" y1="301.3" x2="159.4" y2="301.3" stroke="#333" stroke-width="1.1" />
<text x="136.7 144.4 152.1" y="305.1" font-size="18" text-anchor="middle" font-weight="bold" fill="#111">***</text>
<line x1="197.8" y1="434.3" x2="226.5" y2="434.3" stroke="#333" stroke-width="1.1" />
<text x="204.2 211.9 219.6" y="437.2" font-size="18" text-anchor="middle" font-weight="bold" fill="#111">***</text>
<line x1="255.6" y1="429.1" x2="284.4" y2="429.1" stroke="#333" stroke-width="1.1" />
<text x="261.8 269.5 277.2" y="432.7" font-size="18" text-anchor="middle" font-weight="bold" fill="#111">***</text>
<line x1="315.0" y1="408.3" x2="343.9" y2="408.3" stroke="#333" stroke-width="1.1" />
<text x="325.5 333.3" y="411.8" font-size="18" text-anchor="middle" font-weight="bold" fill="#111">**</text>
<text x="143.8" y="488.0" font-size="13" text-anchor="middle" fill="#222" textLength="38.5" lengthAdjust="spacingAndGlyphs" >MCP-1</text>
<text x="206.0" y="488.0" font-size="13" text-anchor="middle" fill="#222" textLength="33.0" lengthAdjust="spacingAndGlyphs" >IL- 1β</text>
<text x="268.0" y="488.0" font-size="13" text-anchor="middle" fill="#222" textLength="24.7" lengthAdjust="spacingAndGlyphs" >IL-6</text>
<text x="330.3" y="488.0" font-size="13" text-anchor="middle" fill="#222" textLength="29.7" lengthAdjust="spacingAndGlyphs" >IL-10</text>
<text x="49.3" y="388.3" font-size="13.6" text-anchor="middle" fill="#222" textLength="195.5" lengthAdjust="spacingAndGlyphs" transform="rotate(-90 49.3 388.3)" >Serum levels of inflammatory</text>
<text x="63.6" y="389.1" font-size="13" text-anchor="middle" fill="#222" textLength="123.8" lengthAdjust="spacingAndGlyphs" transform="rotate(-90 63.6 389.1)">cytokines (pg ml<tspan font-size="9" dy="-5">−1</tspan><tspan dy="5">)</tspan></text>
<rect x="248.2" y="283.7" width="9.3" height="9.3" fill="#a0a0a0" stroke="#555" stroke-width="1"/>
<text x="263.2" y="293.8" font-size="14.2" text-anchor="start" fill="#222" textLength="18.6" lengthAdjust="spacingAndGlyphs" >CS</text>
<rect x="297.9" y="283.7" width="8.9" height="9.3" fill="#e02020" stroke="#7a1a14" stroke-width="1"/>
<text x="312.4" y="293.5" font-size="14.2" text-anchor="start" fill="#222" textLength="16.6" lengthAdjust="spacingAndGlyphs" >RS</text>
<line x1="453.0" y1="321.1" x2="453.0" y2="471.8" stroke="#444" stroke-width="1.3" />
<line x1="452.4" y1="471.8" x2="589.3" y2="471.8" stroke="#444" stroke-width="1.3" />
<text x="445.0" y="476.1" font-size="12" text-anchor="end" fill="#222" textLength="6.8" lengthAdjust="spacingAndGlyphs" >0</text>
<line x1="453.0" y1="441.7" x2="459.0" y2="441.7" stroke="#444" stroke-width="1.2" />
<text x="445.0" y="446.0" font-size="12" text-anchor="end" fill="#222" textLength="6.8" lengthAdjust="spacingAndGlyphs" >5</text>
<line x1="453.0" y1="411.5" x2="459.0" y2="411.5" stroke="#444" stroke-width="1.2" />
<text x="445.0" y="415.8" font-size="12" text-anchor="end" fill="#222" textLength="12.6" lengthAdjust="spacingAndGlyphs" >10</text>
<line x1="453.0" y1="381.4" x2="459.0" y2="381.4" stroke="#444" stroke-width="1.2" />
<text x="445.0" y="385.7" font-size="12" text-anchor="end" fill="#222" textLength="12.6" lengthAdjust="spacingAndGlyphs" >15</text>
<line x1="453.0" y1="351.2" x2="459.0" y2="351.2" stroke="#444" stroke-width="1.2" />
<text x="445.0" y="355.5" font-size="12" text-anchor="end" fill="#222" textLength="12.6" lengthAdjust="spacingAndGlyphs" >20</text>
<line x1="453.0" y1="321.1" x2="459.0" y2="321.1" stroke="#444" stroke-width="1.2" />
<text x="445.0" y="325.4" font-size="12" text-anchor="end" fill="#222" textLength="12.6" lengthAdjust="spacingAndGlyphs" >25</text>
<rect x="474.8" y="373.6" width="31.9" height="98.2" fill="#b0b0b0" stroke="#333" stroke-width="1"/>
<rect x="539.9" y="420.5" width="32.0" height="51.3" fill="#e02020" stroke="#5a1510" stroke-width="1"/>
<line x1="490.8" y1="369.2" x2="490.8" y2="377.9" stroke="#000" stroke-width="1" />
<line x1="482.9" y1="369.2" x2="498.8" y2="369.2" stroke="#000" stroke-width="1" />
<line x1="482.9" y1="377.9" x2="498.8" y2="377.9" stroke="#000" stroke-width="1" />
<line x1="555.9" y1="416.7" x2="555.9" y2="424.2" stroke="#000" stroke-width="1" />
<line x1="548.0" y1="416.7" x2="563.8" y2="416.7" stroke="#000" stroke-width="1" />
<line x1="548.0" y1="424.2" x2="563.8" y2="424.2" stroke="#000" stroke-width="1" />
<g fill="#000"><circle cx="491.0" cy="346.4" r="2.8"/><circle cx="491.0" cy="355.5" r="2.8"/><circle cx="487.8" cy="360.2" r="2.8"/><circle cx="494.6" cy="365.6" r="2.8"/><circle cx="478.6" cy="369.8" r="2.8"/><circle cx="503.7" cy="371.5" r="2.8"/><circle cx="484.6" cy="373.6" r="2.8"/><circle cx="491.4" cy="375.8" r="2.8"/><circle cx="497.8" cy="375.1" r="2.8"/><circle cx="480.7" cy="379.4" r="2.8"/><circle cx="501.6" cy="381.5" r="2.8"/><circle cx="487.8" cy="383.7" r="2.8"/><circle cx="494.6" cy="386.4" r="2.8"/><circle cx="484.4" cy="395.8" r="2.8"/><circle cx="497.3" cy="397.5" r="2.8"/><circle cx="491.0" cy="403.2" r="2.8"/></g>
<g fill="#000"><circle cx="552.7" cy="388.3" r="2.8"/><circle cx="559.1" cy="396.0" r="2.8"/><circle cx="552.7" cy="415.9" r="2.8"/><circle cx="545.0" cy="421.6" r="2.8"/><circle cx="559.1" cy="420.6" r="2.8"/><circle cx="569.1" cy="422.7" r="2.8"/><circle cx="542.5" cy="423.5" r="2.8"/><circle cx="563.0" cy="423.8" r="2.8"/><circle cx="550.0" cy="429.1" r="2.8"/><circle cx="556.3" cy="430.8" r="2.8"/><circle cx="563.4" cy="428.6" r="2.8"/><circle cx="545.7" cy="434.4" r="2.8"/><circle cx="565.9" cy="433.3" r="2.8"/><circle cx="559.1" cy="438.7" r="2.8"/><circle cx="552.7" cy="440.8" r="2.8"/><circle cx="552.0" cy="424.5" r="2.8"/></g>
<line x1="491.8" y1="320.7" x2="548.9" y2="320.7" stroke="#333" stroke-width="1.1" />
<text x="512.6 519.8 527.0" y="323.9" font-size="17" text-anchor="middle" font-weight="bold" fill="#111">***</text>
<text x="490.6" y="489.8" font-size="13" text-anchor="middle" fill="#222" textLength="17.7" lengthAdjust="spacingAndGlyphs" >CS</text>
<text x="555.5" y="489.8" font-size="13" text-anchor="middle" fill="#222" textLength="16.6" lengthAdjust="spacingAndGlyphs" >RS</text>
<text x="401.3" y="396.4" font-size="14" text-anchor="middle" fill="#222" textLength="114.0" lengthAdjust="spacingAndGlyphs" transform="rotate(-90 401.3 396.4)" >Serum DX-4000-</text>
<text x="416.8" y="395.9" font-size="12.8" text-anchor="middle" fill="#222" textLength="90.3" lengthAdjust="spacingAndGlyphs" transform="rotate(-90 416.8 395.9)">FITC (ng ml<tspan font-size="9" dy="-5">−1</tspan><tspan dy="5">)</tspan></text>
<line x1="687.1" y1="326.4" x2="687.1" y2="389.2" stroke="#444" stroke-width="1.3" />
<line x1="680.3" y1="389.2" x2="694.1" y2="389.2" stroke="#444" stroke-width="1.2" />
<line x1="687.1" y1="326.4" x2="694.1" y2="326.4" stroke="#444" stroke-width="1.2" />
<text x="673.5" y="330.7" font-size="12" text-anchor="end" fill="#222" >4</text>
<line x1="687.1" y1="346.6" x2="694.1" y2="346.6" stroke="#444" stroke-width="1.2" />
<text x="673.5" y="350.9" font-size="12" text-anchor="end" fill="#222" >3</text>
<line x1="687.1" y1="367.0" x2="694.1" y2="367.0" stroke="#444" stroke-width="1.2" />
<text x="673.5" y="371.3" font-size="12" text-anchor="end" fill="#222" >2</text>
<text x="673.5" y="393.5" font-size="12" text-anchor="end" fill="#222" >1</text>
<line x1="687.1" y1="407.1" x2="687.1" y2="470.0" stroke="#444" stroke-width="1.3" />
<line x1="680.3" y1="407.1" x2="694.1" y2="407.1" stroke="#444" stroke-width="1.2" />
<line x1="686.5" y1="470.0" x2="830.0" y2="470.0" stroke="#444" stroke-width="1.3" />
<text x="673.5" y="411.4" font-size="12" text-anchor="end" fill="#222" textLength="17.5" lengthAdjust="spacingAndGlyphs" >0.4</text>
<line x1="687.1" y1="424.2" x2="694.1" y2="424.2" stroke="#444" stroke-width="1.2" />
<text x="673.5" y="428.5" font-size="12" text-anchor="end" fill="#222" textLength="17.5" lengthAdjust="spacingAndGlyphs" >0.3</text>
<line x1="687.1" y1="439.7" x2="694.1" y2="439.7" stroke="#444" stroke-width="1.2" />
<text x="673.5" y="444.0" font-size="12" text-anchor="end" fill="#222" textLength="17.5" lengthAdjust="spacingAndGlyphs" >0.2</text>
<line x1="687.1" y1="455.3" x2="694.1" y2="455.3" stroke="#444" stroke-width="1.2" />
<text x="673.5" y="459.6" font-size="12" text-anchor="end" fill="#222" textLength="17.5" lengthAdjust="spacingAndGlyphs" >0.1</text>
<text x="673.5" y="474.3" font-size="12" text-anchor="end" fill="#222" textLength="6.8" lengthAdjust="spacingAndGlyphs" >0</text>
<rect x="704.3" y="374.1" width="36.2" height="13.2" fill="#a6a6a6" stroke="#333" stroke-width="1"/>
<rect x="704.3" y="408.6" width="36.2" height="61.4" fill="#a6a6a6" stroke="#333" stroke-width="1"/>
<line x1="722.3" y1="369.2" x2="722.3" y2="379.4" stroke="#000" stroke-width="1" />
<line x1="714.3" y1="369.2" x2="730.3" y2="369.2" stroke="#000" stroke-width="1" />
<line x1="714.3" y1="379.4" x2="730.3" y2="379.4" stroke="#000" stroke-width="1" />
<g fill="#000"><circle cx="714.8" cy="343.8" r="2.6"/><circle cx="726.1" cy="341.7" r="2.6"/><circle cx="718.6" cy="348.9" r="2.6"/><circle cx="726.1" cy="355.3" r="2.6"/><circle cx="733.5" cy="367.0" r="2.6"/><circle cx="707.5" cy="370.2" r="2.6"/><circle cx="726.1" cy="369.8" r="2.6"/><circle cx="714.8" cy="373.6" r="2.6"/><circle cx="711.2" cy="377.9" r="2.6"/><circle cx="718.6" cy="378.8" r="2.6"/><circle cx="726.1" cy="382.6" r="2.6"/><circle cx="733.5" cy="378.3" r="2.6"/><circle cx="726.1" cy="410.3" r="2.6"/><circle cx="718.6" cy="413.5" r="2.6"/><circle cx="722.4" cy="425.8" r="2.6"/><circle cx="722.4" cy="436.9" r="2.6"/></g>
<rect x="775.4" y="463.5" width="36.2" height="6.5" fill="#e2431f"/>
<g fill="#000"><circle cx="778.0" cy="461.1" r="3.0"/><circle cx="780.2" cy="462.9" r="3.0"/><circle cx="782.4" cy="463.0" r="3.0"/><circle cx="784.6" cy="464.6" r="3.0"/><circle cx="786.8" cy="464.6" r="3.0"/><circle cx="789.0" cy="466.0" r="3.0"/><circle cx="791.2" cy="465.8" r="3.0"/><circle cx="793.4" cy="466.9" r="3.0"/><circle cx="795.5" cy="465.8" r="3.0"/><circle cx="797.7" cy="466.0" r="3.0"/><circle cx="799.9" cy="464.6" r="3.0"/><circle cx="802.1" cy="464.6" r="3.0"/><circle cx="804.3" cy="463.0" r="3.0"/><circle cx="806.5" cy="462.9" r="3.0"/><circle cx="808.7" cy="461.1" r="3.0"/></g>
<line x1="722.2" y1="321.3" x2="797.0" y2="321.3" stroke="#333" stroke-width="1.1" />
<text x="751.9 759.3 766.7" y="324.9" font-size="17" text-anchor="middle" font-weight="bold" fill="#111">***</text>
<text x="722.3" y="488.7" font-size="13" text-anchor="middle" fill="#222" textLength="18.1" lengthAdjust="spacingAndGlyphs" >CS</text>
<text x="793.0" y="488.7" font-size="13" text-anchor="middle" fill="#222" textLength="16.6" lengthAdjust="spacingAndGlyphs" >RS</text>
<text x="627.6" y="398.0" font-size="14" text-anchor="middle" fill="#222" textLength="106.0" lengthAdjust="spacingAndGlyphs" transform="rotate(-90 627.6 398.0)" >mWAT LPS level</text>
<text x="641.0" y="397.0" font-size="12.6" text-anchor="middle" fill="#222" textLength="132.0" lengthAdjust="spacingAndGlyphs" transform="rotate(-90 641.0 397.0)" >(EU per mg protein)</text>
<line x1="916.7" y1="324.1" x2="916.7" y2="470.5" stroke="#444" stroke-width="1.3" />
<line x1="916.1" y1="470.5" x2="1058.7" y2="470.5" stroke="#444" stroke-width="1.3" />
<text x="908.5" y="474.8" font-size="12" text-anchor="end" fill="#222" textLength="6.8" lengthAdjust="spacingAndGlyphs" >0</text>
<line x1="916.7" y1="446.1" x2="923.5" y2="446.1" stroke="#444" stroke-width="1.2" />
<text x="908.5" y="450.4" font-size="12" text-anchor="end" fill="#222" textLength="6.8" lengthAdjust="spacingAndGlyphs" >5</text>
<line x1="916.7" y1="421.7" x2="923.5" y2="421.7" stroke="#444" stroke-width="1.2" />
<text x="908.5" y="426.0" font-size="12" text-anchor="end" fill="#222" textLength="13.5" lengthAdjust="spacingAndGlyphs" >10</text>
<line x1="916.7" y1="397.3" x2="923.5" y2="397.3" stroke="#444" stroke-width="1.2" />
<text x="908.5" y="401.6" font-size="12" text-anchor="end" fill="#222" textLength="13.5" lengthAdjust="spacingAndGlyphs" >15</text>
<line x1="916.7" y1="372.9" x2="923.5" y2="372.9" stroke="#444" stroke-width="1.2" />
<text x="908.5" y="377.2" font-size="12" text-anchor="end" fill="#222" textLength="13.5" lengthAdjust="spacingAndGlyphs" >20</text>
<line x1="916.7" y1="348.5" x2="923.5" y2="348.5" stroke="#444" stroke-width="1.2" />
<text x="908.5" y="352.8" font-size="12" text-anchor="end" fill="#222" textLength="13.5" lengthAdjust="spacingAndGlyphs" >25</text>
<line x1="916.7" y1="324.1" x2="923.5" y2="324.1" stroke="#444" stroke-width="1.2" />
<text x="908.5" y="328.4" font-size="12" text-anchor="end" fill="#222" textLength="13.5" lengthAdjust="spacingAndGlyphs" >30</text>
<rect x="939.4" y="377.3" width="34.5" height="93.2" fill="#b0b0b0" stroke="#333" stroke-width="1"/>
<rect x="1007.2" y="433.2" width="34.5" height="37.3" fill="#e02020" stroke="#5a1510" stroke-width="1"/>
<line x1="956.6" y1="369.9" x2="956.6" y2="384.7" stroke="#000" stroke-width="1" />
<line x1="948.4" y1="369.9" x2="965.0" y2="369.9" stroke="#000" stroke-width="1" />
<line x1="948.4" y1="384.7" x2="965.0" y2="384.7" stroke="#000" stroke-width="1" />
<line x1="1024.4" y1="430.0" x2="1024.4" y2="436.2" stroke="#000" stroke-width="1" />
<line x1="1016.0" y1="430.0" x2="1032.7" y2="430.0" stroke="#000" stroke-width="1" />
<line x1="1016.0" y1="436.2" x2="1032.7" y2="436.2" stroke="#000" stroke-width="1" />
<g fill="#000"><circle cx="949.7" cy="327.3" r="2.7"/><circle cx="963.9" cy="325.1" r="2.7"/><circle cx="956.5" cy="331.5" r="2.7"/><circle cx="956.5" cy="357.7" r="2.7"/><circle cx="956.5" cy="365.2" r="2.7"/><circle cx="956.5" cy="375.2" r="2.7"/><circle cx="949.7" cy="382.0" r="2.7"/><circle cx="963.9" cy="379.4" r="2.7"/><circle cx="943.7" cy="387.5" r="2.7"/><circle cx="949.7" cy="388.4" r="2.7"/><circle cx="956.5" cy="385.8" r="2.7"/><circle cx="963.9" cy="389.7" r="2.7"/><circle cx="970.3" cy="388.4" r="2.7"/><circle cx="956.5" cy="394.5" r="2.7"/><circle cx="956.5" cy="426.6" r="2.7"/><circle cx="956.5" cy="437.9" r="2.7"/></g>
<g fill="#000"><circle cx="1024.2" cy="410.2" r="2.7"/><circle cx="1011.2" cy="418.7" r="2.7"/><circle cx="1017.6" cy="423.0" r="2.7"/><circle cx="1024.2" cy="426.2" r="2.7"/><circle cx="1030.6" cy="424.1" r="2.7"/><circle cx="1037.4" cy="422.4" r="2.7"/><circle cx="1009.3" cy="433.7" r="2.7"/><circle cx="1038.5" cy="434.1" r="2.7"/><circle cx="1015.0" cy="437.3" r="2.7"/><circle cx="1021.0" cy="440.0" r="2.7"/><circle cx="1027.2" cy="439.4" r="2.7"/><circle cx="1032.7" cy="437.9" r="2.7"/><circle cx="1013.5" cy="443.9" r="2.7"/><circle cx="1034.8" cy="442.8" r="2.7"/><circle cx="1027.8" cy="446.4" r="2.7"/><circle cx="1020.8" cy="450.3" r="2.7"/></g>
<line x1="966.7" y1="317.3" x2="1018.9" y2="317.3" stroke="#333" stroke-width="1.1" />
<text x="984.6 992.2 999.8" y="319.8" font-size="17" text-anchor="middle" font-weight="bold" fill="#111">***</text>
<text x="956.2" y="488.4" font-size="13" text-anchor="middle" fill="#222" textLength="18.5" lengthAdjust="spacingAndGlyphs" >CS</text>
<text x="1023.9" y="488.4" font-size="13" text-anchor="middle" fill="#222" textLength="17.7" lengthAdjust="spacingAndGlyphs" >RS</text>
<text x="880.1" y="397.0" font-size="13.2" text-anchor="middle" fill="#222" textLength="148.0" lengthAdjust="spacingAndGlyphs" transform="rotate(-90 880.1 397.0)" >Serum LPS (EU per ml)</text>
</svg>
</body></html>
